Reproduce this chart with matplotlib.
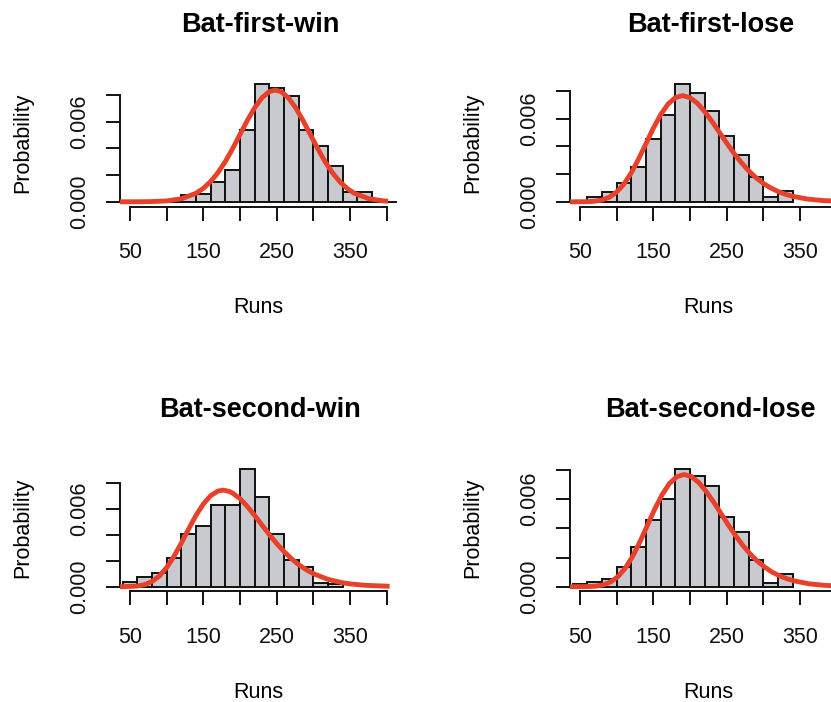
import matplotlib
matplotlib.use("Agg")
import matplotlib.pyplot as plt

plt.rcParams['font.family'] = ['Liberation Sans', 'DejaVu Sans']

# ---------------- data ----------------
titles = ['Bat-first-win', 'Bat-first-lose', 'Bat-second-win', 'Bat-second-lose']
x_label = 'Runs'
y_label = 'Probability'
bin_width = 20
x_ticks = [50, 100, 150, 200, 250, 300, 350, 400]
x_tick_labels = ['50', '', '150', '', '250', '', '350', '']
y_ticks = [0.0, 0.002, 0.004, 0.006, 0.008]
y_tick_labels = ['0.000', '', '', '0.006', '']

# Bat-first-win
bfw_bin_left = [100, 120, 140, 160, 180, 200, 220, 240, 260, 280, 300, 320, 340, 360, 380, 400]
bfw_density = [0.000125, 0.00048, 0.0006, 0.00152, 0.002375, 0.005375, 0.00882, 0.00856, 0.00797,
               0.005375, 0.0042, 0.0027, 0.00075, 0.00075, 0.00012, 0.0]
bfw_curve_x = [36, 60, 80, 100, 120, 140, 150, 160, 170, 180, 190, 200, 210, 220, 230, 240, 248,
               256, 266, 276, 286, 296, 306, 316, 326, 336, 346, 356, 376, 396, 402]
bfw_curve_y = [0.0, 0.000003, 0.000017, 0.000067, 0.000225, 0.000639, 0.001007, 0.001518, 0.002188,
               0.003018, 0.00399, 0.005043, 0.006095, 0.007049, 0.007803, 0.008264, 0.008381,
               0.008264, 0.007803, 0.007049, 0.006095, 0.005043, 0.00399, 0.003018, 0.002188,
               0.001518, 0.001007, 0.000639, 0.000225, 0.000067, 0.000045]

# Bat-first-lose
bfl_bin_left = [60, 80, 100, 120, 140, 160, 180, 200, 220, 240, 260, 280, 300, 320]
bfl_density = [0.00038, 0.00068, 0.00134, 0.00251, 0.00455, 0.00627, 0.00848, 0.00783, 0.00656,
               0.00477, 0.0034, 0.00177, 0.00036, 0.00077]
bfl_curve_x = [36, 40, 60, 70, 80, 90, 100, 110, 120, 130, 140, 150, 160, 170, 180, 190, 200, 210,
               220, 230, 240, 250, 260, 270, 280, 290, 300, 310, 320, 330, 340, 360, 380, 404]
bfl_curve_y = [0.0, 0.0, 0.00001, 0.00004, 0.00013, 0.00033, 0.0007, 0.00128, 0.00209, 0.00309,
               0.0042, 0.0053, 0.00628, 0.00704, 0.00751, 0.00766, 0.00751, 0.00711, 0.00651,
               0.0058, 0.00502, 0.00424, 0.0035, 0.00283, 0.00224, 0.00174, 0.00133, 0.001,
               0.000745, 0.000545, 0.000394, 0.000198, 0.000095, 0.00004]

# Bat-second-win
bsw_bin_left = [40, 60, 80, 100, 120, 140, 160, 180, 200, 220, 240, 260, 280, 300, 320]
bsw_density = [0.00039, 0.00075, 0.00106, 0.00219, 0.00405, 0.00467, 0.00632, 0.00632, 0.00911,
               0.00697, 0.00405, 0.00204, 0.00152, 0.00031, 0.00023]
bsw_curve_x = [36, 40, 60, 70, 80, 90, 100, 110, 120, 130, 140, 150, 160, 170, 177, 185, 190, 200,
               210, 220, 230, 240, 250, 260, 270, 280, 290, 300, 320, 340, 350, 370, 404]
bsw_curve_y = [0.0, 0.0000015, 0.00005, 0.00016, 0.0004, 0.00082, 0.00148, 0.00235, 0.00338,
               0.00447, 0.00552, 0.0064, 0.00705, 0.00741, 0.00748, 0.00739, 0.00725, 0.00682,
               0.00622, 0.00552, 0.00478, 0.00404, 0.00335, 0.00273, 0.00218, 0.00171, 0.00133,
               0.00101, 0.000567, 0.000303, 0.000218, 0.00011, 0.000032]

# Bat-second-lose
bsl_bin_left = [40, 60, 80, 100, 120, 140, 160, 180, 200, 220, 240, 260, 280, 300, 320]
bsl_density = [0.00016, 0.00034, 0.00053, 0.00137, 0.0027, 0.00457, 0.00599, 0.00807, 0.00761,
               0.00693, 0.0048, 0.00373, 0.00185, 0.00027, 0.00085]
bsl_curve_x = [36, 42, 62, 72, 82, 92, 102, 112, 122, 132, 142, 152, 162, 172, 182, 192, 202, 212,
               222, 232, 242, 252, 262, 272, 282, 292, 302, 312, 322, 332, 342, 362, 382, 404]
bsl_curve_y = [0.0, 0.0, 0.00001, 0.00004, 0.00013, 0.00033, 0.0007, 0.00129, 0.0021, 0.0031,
               0.00422, 0.00533, 0.00631, 0.00708, 0.00755, 0.0077, 0.00755, 0.00715, 0.00654,
               0.00583, 0.00505, 0.00426, 0.00352, 0.00284, 0.00225, 0.00175, 0.00134, 0.001,
               0.00075, 0.00055, 0.0004, 0.0002, 0.0001, 0.00004]

panels = [
    (bfw_bin_left, bfw_density, bfw_curve_x, bfw_curve_y),
    (bfl_bin_left, bfl_density, bfl_curve_x, bfl_curve_y),
    (bsw_bin_left, bsw_density, bsw_curve_x, bsw_curve_y),
    (bsl_bin_left, bsl_density, bsl_curve_x, bsl_curve_y),
]

# ---------------- layout (pixels) ----------------
W, H = 831, 702
fig = plt.figure(figsize=(W / 100, H / 100), dpi=100)

col_left = [119.7, 569.7]
row_bottom = [206.5, 591.4]
ax_w, ax_h = 277.2, 127.0
x_min, x_max = 36, 414

bar_fill = '#c8cacf'
edge = '#111111'
red = '#e8412b'
tick_fs = 15.5
title_fs = 19.5

for i, (bl, dens, cx, cy) in enumerate(panels):
    r, c = divmod(i, 2)
    left = col_left[c]
    bottom = row_bottom[r]
    ax = fig.add_axes([left / W, (H - bottom) / H, ax_w / W, ax_h / H])
    M = max(dens)
    ax.bar(bl, dens, width=bin_width, align='edge', color=bar_fill,
           edgecolor=edge, linewidth=1.4, zorder=2)
    ax.plot(cx, cy, color=red, linewidth=3.5, solid_capstyle='butt', zorder=3)
    ax.set_xlim(x_min, x_max)
    ax.set_ylim(-0.04 * M, 1.04 * M)
    for s in ('top', 'right'):
        ax.spines[s].set_visible(False)
    ax.spines['left'].set_bounds(y_ticks[0], y_ticks[-1])
    ax.spines['bottom'].set_bounds(x_ticks[0], x_ticks[-1])
    for s in ('left', 'bottom'):
        ax.spines[s].set_linewidth(1.4)
        ax.spines[s].set_color(edge)
    ax.set_xticks(x_ticks, labels=x_tick_labels)
    ax.set_yticks(y_ticks, labels=y_tick_labels)
    ax.tick_params(axis='both', direction='out', length=10, width=1.4, color=edge,
                   labelsize=tick_fs, labelcolor='#111111')
    ax.tick_params(axis='x', pad=15.5)
    ax.tick_params(axis='y', pad=11.5)
    for lab in ax.get_yticklabels():
        lab.set_rotation(90)
        lab.set_va('center')
        lab.set_ha('right')
    ax.patch.set_alpha(0)

    cx_pix = left + ax_w / 2
    fig.text((cx_pix + 2) / W, 1 - (31.7 + 384.9 * r) / H, titles[i],
             ha='center', va='baseline', fontsize=title_fs, fontweight='bold')
    fig.text(cx_pix / W, 1 - (313.3 + 384.9 * r) / H, x_label,
             ha='center', va='baseline', fontsize=tick_fs)
    fig.text((33.5 + 450 * c) / W, 1 - (bottom - ax_h / 2) / H, y_label,
             ha='right', va='center', rotation=90, fontsize=tick_fs)

fig.savefig('out.png', dpi=100)
